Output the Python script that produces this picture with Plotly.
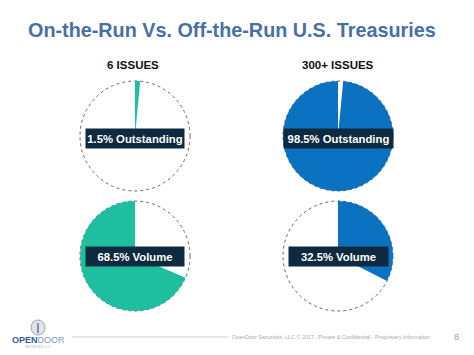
import plotly.graph_objects as go

# ---- data ----
column_titles = ["6 ISSUES", "300+ ISSUES"]
outstanding_share = [1.5, 98.5]   # % of outstanding
volume_share = [68.5, 32.5]       # % of volume
row_metrics = ["Outstanding", "Volume"]

TEAL = "#1dbf9e"
BLUE = "#0a72c0"
NAVY = "#0d2a40"
W, H = 474, 355

col_colors = [TEAL, BLUE]
col_cx = [135, 338]
row_cy = [136, 256]
R = 55

# whether the coloured slice comes first (clockwise from 12 o'clock)
colored_first = {(0, 0): True, (0, 1): False, (1, 0): False, (1, 1): True}
box_w = {(0, 0): 98, (0, 1): 109, (1, 0): 98, (1, 1): 99}
box_dy = [2.5, 0.5]

def px_x(x):
    return x / W

def px_y(y):
    return 1 - y / H

fig = go.Figure()
shapes = []
annotations = []

rows_vals = [outstanding_share, volume_share]
for r, vals in enumerate(rows_vals):
    for c, v in enumerate(vals):
        cx, cy = col_cx[c], row_cy[r]
        vals_ = [v, 100 - v]
        labs = [f"{v}% {row_metrics[r]}", "Other"]
        cols = [col_colors[c], "rgba(0,0,0,0)"]
        if not colored_first[(r, c)]:
            vals_, labs, cols = vals_[::-1], labs[::-1], cols[::-1]
        fig.add_trace(go.Pie(
            values=vals_, labels=labs,
            marker=dict(colors=cols, line=dict(width=0)),
            sort=False, direction="clockwise", rotation=0,
            textinfo="none", hoverinfo="label", showlegend=False,
            domain=dict(x=[px_x(cx - R), px_x(cx + R)],
                        y=[px_y(cy + R), px_y(cy - R)]),
        ))
        shapes.append(dict(type="circle", xref="paper", yref="paper",
                           x0=px_x(cx - R), x1=px_x(cx + R),
                           y0=px_y(cy + R), y1=px_y(cy - R),
                           line=dict(color="#666666", width=1, dash="dot"),
                           layer="below"))
        annotations.append(dict(
            x=px_x(cx), y=px_y(cy + box_dy[r]), xref="paper", yref="paper",
            text=f"<b>{v}% {row_metrics[r]}</b>", showarrow=False,
            bgcolor=NAVY, width=box_w[(r, c)], height=19, borderpad=0,
            font=dict(family="Liberation Sans, Arial", size=11.3, color="white"),
            xanchor="center", yanchor="middle"))

# column titles
for c, t in enumerate(column_titles):
    annotations.append(dict(
        x=px_x(col_cx[c] - 2 if c == 0 else col_cx[c]), y=px_y(65),
        xref="paper", yref="paper", text=f"<b>{t}</b>", showarrow=False,
        font=dict(family="Liberation Sans, Arial", size=11.5, color="#111111"),
        xanchor="center", yanchor="middle"))

# main title
annotations.append(dict(
    x=px_x(232), y=px_y(30), xref="paper", yref="paper",
    text="<b>On-the-Run Vs. Off-the-Run U.S. Treasuries</b>", showarrow=False,
    font=dict(family="Liberation Sans, Arial", size=19.8, color="#4a6fa3"),
    xanchor="center", yanchor="middle"))

# footer
annotations.append(dict(
    x=px_x(38), y=px_y(340), xref="paper", yref="paper",
    text="<b><span style='color:#2f5e9a'>OPEN</span></b><span style='color:#8a9bb0'>DOOR</span>",
    showarrow=False, font=dict(family="Liberation Sans, Arial", size=9),
    xanchor="center", yanchor="middle"))
annotations.append(dict(
    x=px_x(38), y=px_y(347), xref="paper", yref="paper",
    text="SECURITIES, LLC", showarrow=False,
    font=dict(family="Liberation Sans, Arial", size=3, color="#b0b8c2"),
    xanchor="center", yanchor="middle"))
annotations.append(dict(
    x=px_x(331), y=px_y(337), xref="paper", yref="paper",
    text="OpenDoor Securities, LLC © 2017,  Private & Confidential - Proprietary Information",
    showarrow=False,
    font=dict(family="Liberation Sans, Arial", size=5.4, color="#aaaaaa"),
    xanchor="center", yanchor="middle"))
annotations.append(dict(
    x=px_x(456), y=px_y(337), xref="paper", yref="paper", text="8",
    showarrow=False,
    font=dict(family="Liberation Sans, Arial", size=9, color="#999999"),
    xanchor="center", yanchor="middle"))

shapes.append(dict(type="line", xref="paper", yref="paper",
                   x0=px_x(72), x1=px_x(228), y0=px_y(337), y1=px_y(337),
                   line=dict(color="#cfcfcf", width=1)))
# logo emblem
shapes.append(dict(type="circle", xref="paper", yref="paper",
                   x0=px_x(31), x1=px_x(45), y0=px_y(335), y1=px_y(320),
                   line=dict(color="#9aa6b4", width=1), fillcolor="#dfe4ea"))
shapes.append(dict(type="line", xref="paper", yref="paper",
                   x0=px_x(38), x1=px_x(38), y0=px_y(333), y1=px_y(323),
                   line=dict(color="#6b7a8c", width=1.5)))

fig.update_layout(width=W, height=H, margin=dict(l=0, r=0, t=0, b=0),
                  paper_bgcolor="white", plot_bgcolor="white",
                  shapes=shapes, annotations=annotations)

fig.write_html("out.html", config={"displayModeBar": False},
               post_script="document.body.style.margin='0';document.body.style.overflow='hidden';")
